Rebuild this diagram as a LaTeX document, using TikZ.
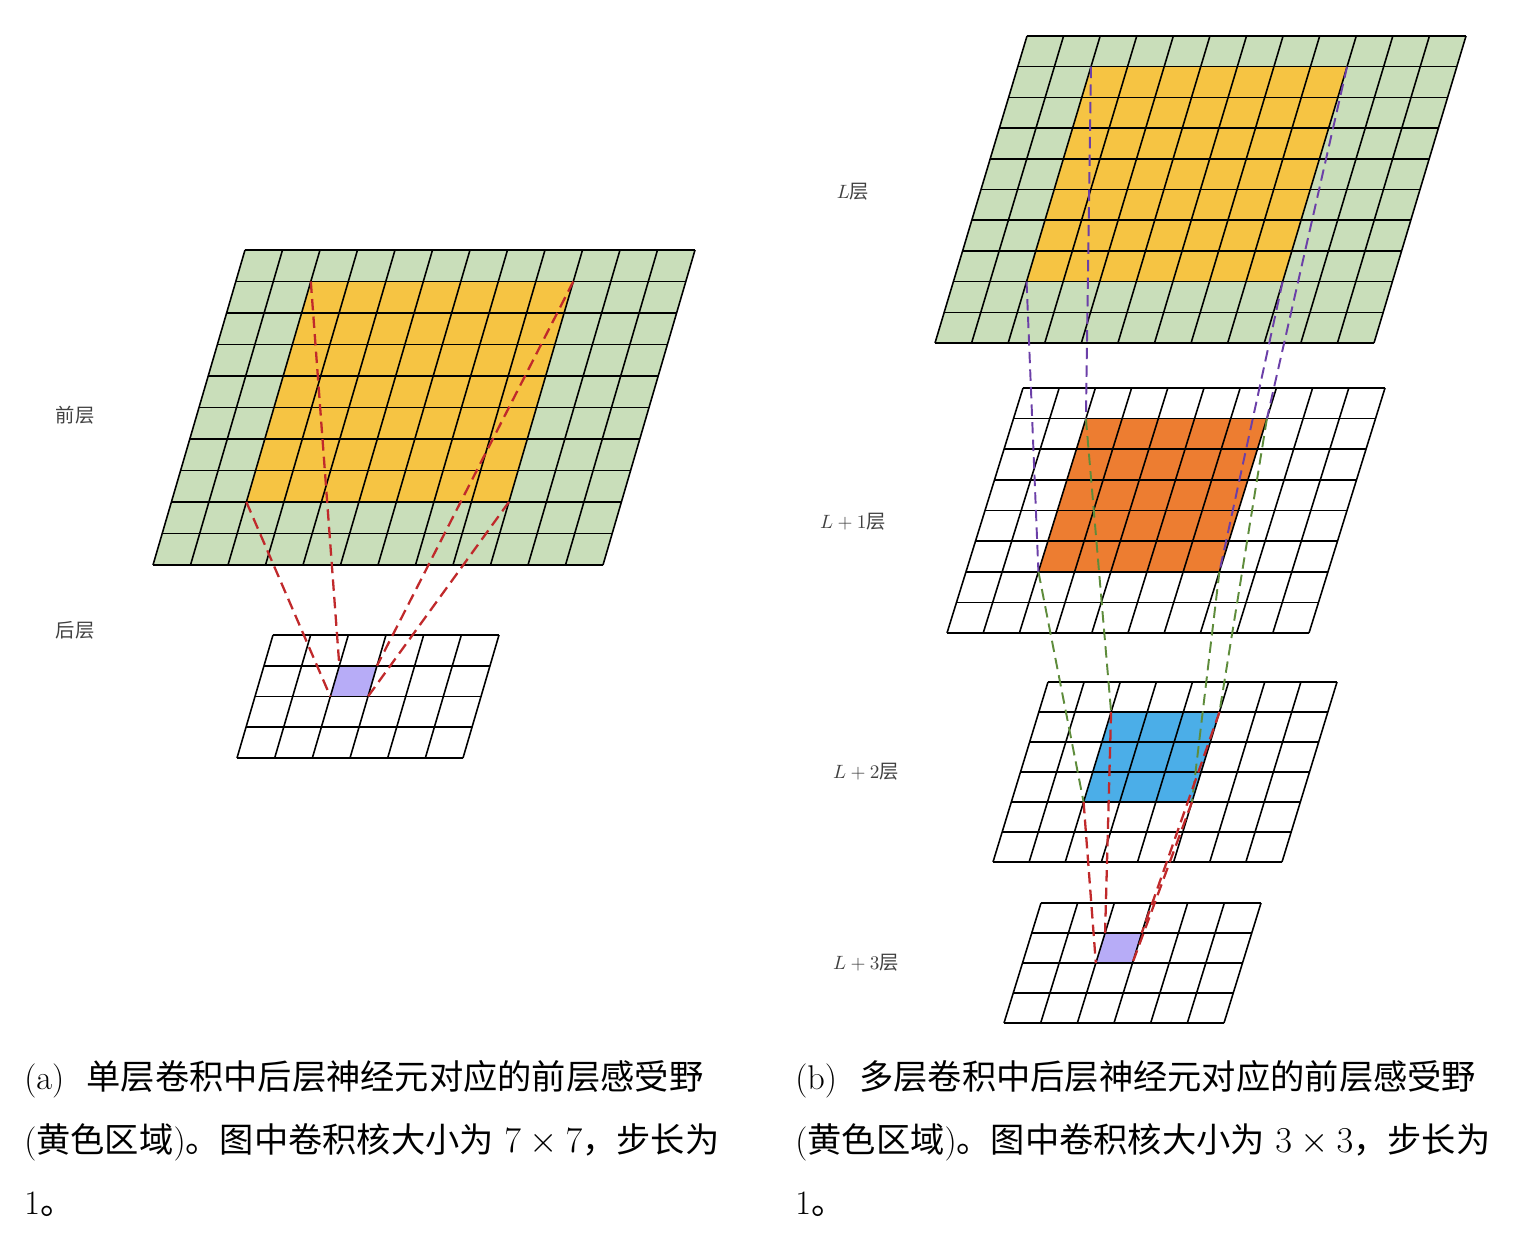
\documentclass[tikz,border=0pt]{standalone}
\usepackage{fontspec}
\newfontfamily\cjk{Noto Sans CJK SC}
\usepackage{tikz}
\usetikzlibrary{calc}
\usepackage{xcolor}

\definecolor{sage}{HTML}{C9DEBA}
\definecolor{cellyellow}{HTML}{F6C443}
\definecolor{cellorange}{HTML}{ED7D31}
\definecolor{cellblue}{HTML}{4BAEE8}
\definecolor{celllilac}{HTML}{B7ACF7}
\definecolor{linkred}{HTML}{C0292B}
\definecolor{linkviolet}{HTML}{6B3FA8}
\definecolor{linkgreen}{HTML}{5E8C3B}

% name, top-left x, top-left y, width, height, skew, columns, rows
\newcommand{\gridpts}[8]{%
  \foreach \i in {0,...,#7} {
    \foreach \j in {0,...,#8} {
      \coordinate (#1-\i-\j) at ({#2+\i*#4/#7-\j*#6/#8}, {#3+\j*#5/#8});
    }
  }
}
% name, columns, rows
\newcommand{\gridlines}[3]{%
  \foreach \i in {0,...,#2} \draw[gridline] (#1-\i-0) -- (#1-\i-#3);
  \foreach \j in {0,...,#3} \draw[gridline] (#1-0-\j) -- (#1-#2-\j);
}

\begin{document}
\begin{tikzpicture}[x=0.02cm, y=-0.02cm,
    gridline/.style={draw=black, line width=0.9pt},
    reddash/.style={draw=linkred, line width=1.3pt, dash pattern=on 6.5pt off 3.5pt},
    violetdash/.style={draw=linkviolet, line width=1.1pt, dash pattern=on 6.5pt off 3.5pt},
    greendash/.style={draw=linkgreen, line width=1.1pt, dash pattern=on 6.5pt off 3.5pt},
    layerlabel/.style={font=\fontsize{11}{13}\selectfont, text=black!75, inner sep=0pt},
    caption/.style={font=\fontsize{19.5}{35.7}\selectfont, align=left, anchor=north west, inner sep=0pt}]
  \useasboundingbox (0,0) rectangle (1532,1240);

  % Grid points
  \gridpts{pre}{245}{250}{450}{315}{92}{12}{10}
  \gridpts{post}{273}{635}{226}{123}{36}{6}{4}
  \gridpts{L0}{1027}{36}{439}{307}{92}{12}{10}
  \gridpts{L1}{1023}{388}{362}{245}{76}{10}{8}
  \gridpts{L2}{1048}{682}{289}{180}{55}{8}{6}
  \gridpts{L3}{1041}{903}{220}{120}{37}{6}{4}

  % Cell fills
  \fill[sage] (pre-0-0) -- (pre-12-0) -- (pre-12-10) -- (pre-0-10) -- cycle;
  \fill[cellyellow] (pre-2-1) -- (pre-9-1) -- (pre-9-8) -- (pre-2-8) -- cycle;
  \fill[celllilac] (post-2-1) -- (post-3-1) -- (post-3-2) -- (post-2-2) -- cycle;
  \fill[sage] (L0-0-0) -- (L0-12-0) -- (L0-12-10) -- (L0-0-10) -- cycle;
  \fill[cellyellow] (L0-2-1) -- (L0-9-1) -- (L0-9-8) -- (L0-2-8) -- cycle;
  \fill[cellorange] (L1-2-1) -- (L1-7-1) -- (L1-7-6) -- (L1-2-6) -- cycle;
  \fill[cellblue] (L2-2-1) -- (L2-5-1) -- (L2-5-4) -- (L2-2-4) -- cycle;
  \fill[celllilac] (L3-2-1) -- (L3-3-1) -- (L3-3-2) -- (L3-2-2) -- cycle;

  % Grid lines
  \gridlines{pre}{12}{10}
  \gridlines{post}{6}{4}
  \gridlines{L0}{12}{10}
  \gridlines{L1}{10}{8}
  \gridlines{L2}{8}{6}
  \gridlines{L3}{6}{4}

  % Receptive field links
  \foreach \a/\b in {2-1/2-1, 9-1/3-1, 2-8/2-2, 9-8/3-2}
    \draw[reddash] (pre-\a) -- (post-\b);
  \foreach \a/\b in {2-1/2-1, 9-1/7-1, 2-8/2-6, 9-8/7-6}
    \draw[violetdash] (L0-\a) -- (L1-\b);
  \foreach \a/\b in {2-1/2-1, 7-1/5-1, 2-6/2-4, 7-6/5-4}
    \draw[greendash] (L1-\a) -- (L2-\b);
  \foreach \a/\b in {2-1/2-1, 5-1/3-1, 2-4/2-2, 5-4/3-2}
    \draw[reddash] (L2-\a) -- (L3-\b);

  % Layer labels
  \node[layerlabel] (lblpre) at (75,415) {\cjk 前层};
  \node[layerlabel] (lblpost) at (75,630) {\cjk 后层};
  \node[layerlabel] (lblL0) at (853,192) {$L${\cjk 层}};
  \node[layerlabel] (lblL1) at (853,522) {$L+1${\cjk 层}};
  \node[layerlabel] (lblL2) at (866,772) {$L+2${\cjk 层}};
  \node[layerlabel] (lblL3) at (866,963) {$L+3${\cjk 层}};

  % Captions
  \node[caption] (capa) at (24,1060)
    {(a)\hspace{0.65em}{\cjk 单层卷积中后层神经元对应的前层感受野}\\
     ({\cjk 黄色区域}){\cjk 。图中卷积核大小为} $7\times7${\cjk ，步长为}\\
     1{\cjk 。}};
  \node[caption] (capb) at (795,1060)
    {(b)\hspace{0.65em}{\cjk 多层卷积中后层神经元对应的前层感受野}\\
     ({\cjk 黄色区域}){\cjk 。图中卷积核大小为} $3\times3${\cjk ，步长为}\\
     1{\cjk 。}};
\end{tikzpicture}
\end{document}
